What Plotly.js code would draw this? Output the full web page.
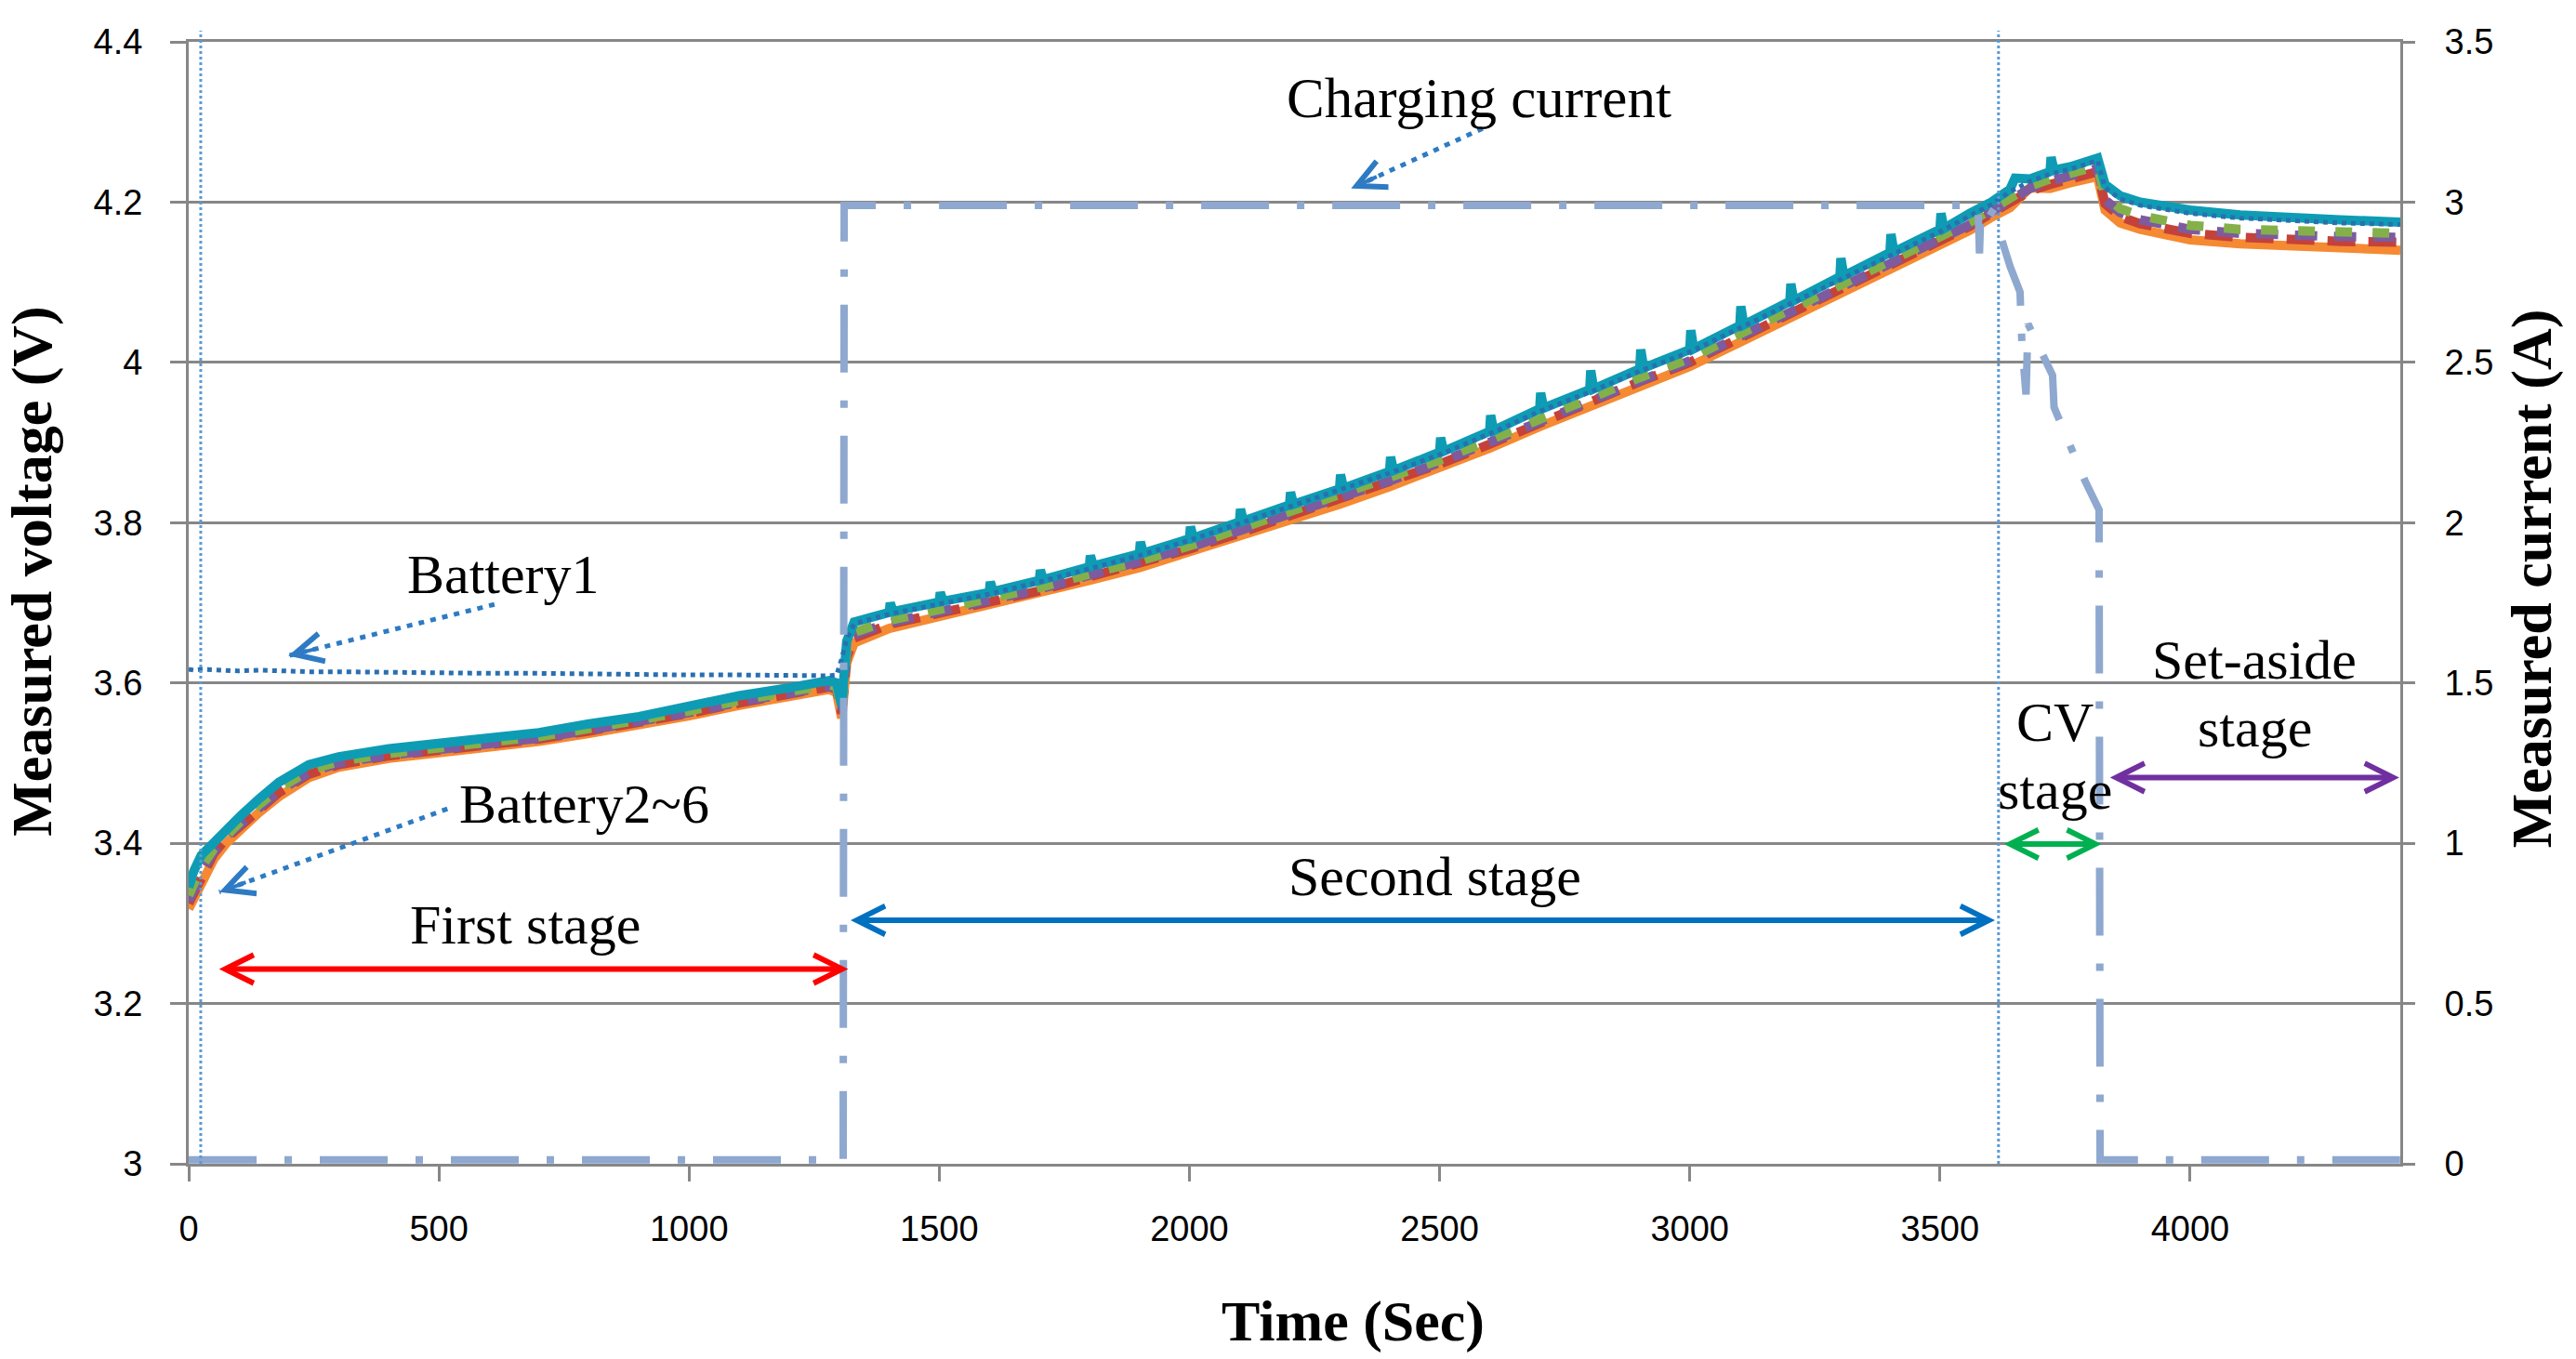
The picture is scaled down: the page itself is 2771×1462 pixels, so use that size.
<!DOCTYPE html>
<html>
<head>
<meta charset="utf-8">
<script src="https://cdn.plot.ly/plotly-3.0.1.min.js"></script>
<style>html,body{margin:0;padding:0;background:#fff;}#chart{width:2771px;height:1462px;}</style>
</head>
<body>
<div id="chart"></div>
<script>
// ---- data ----
const timeSec = [0,10,25,50,75,100,140,180,240,300,400,500,600,700,800,900,1000,1100,1200,1280,1295,1305,1315,1330,1400,1500,1600,1700,1800,1900,2000,2100,2200,2300,2400,2500,2600,2700,2800,2900,3000,3100,3200,3300,3400,3500,3560,3600,3640,3680,3720,3760,3800,3815,3830,3860,3900,3950,4000,4100,4200,4300,4420];

const battery1 = [3.617,3.616,3.617,3.616,3.616,3.615,3.616,3.615,3.614,3.614,3.613,3.613,3.612,3.612,3.611,3.611,3.610,3.610,3.609,3.609,3.610,3.630,3.655,3.674,3.686,3.699,3.711,3.726,3.743,3.759,3.778,3.799,3.820,3.840,3.862,3.885,3.911,3.939,3.963,3.989,4.013,4.043,4.073,4.104,4.134,4.163,4.183,4.196,4.213,4.226,4.235,4.241,4.249,4.252,4.218,4.204,4.196,4.191,4.186,4.180,4.177,4.174,4.172];
const battery2 = [3.325,3.338,3.360,3.387,3.406,3.420,3.443,3.463,3.486,3.498,3.509,3.516,3.523,3.530,3.540,3.550,3.562,3.575,3.586,3.595,3.592,3.562,3.632,3.656,3.673,3.688,3.701,3.715,3.732,3.748,3.767,3.787,3.808,3.828,3.850,3.873,3.898,3.925,3.950,3.976,4.000,4.030,4.060,4.091,4.121,4.151,4.170,4.185,4.200,4.214,4.222,4.229,4.236,4.238,4.198,4.182,4.173,4.166,4.161,4.156,4.153,4.151,4.150];
const battery3 = [3.335,3.348,3.370,3.393,3.411,3.425,3.448,3.468,3.491,3.502,3.512,3.519,3.526,3.533,3.543,3.553,3.565,3.578,3.589,3.598,3.595,3.566,3.640,3.663,3.678,3.692,3.705,3.719,3.736,3.752,3.771,3.792,3.813,3.833,3.855,3.878,3.903,3.930,3.955,3.981,4.005,4.035,4.065,4.096,4.126,4.156,4.175,4.190,4.206,4.220,4.229,4.235,4.243,4.245,4.208,4.192,4.183,4.176,4.171,4.166,4.164,4.162,4.161];
const battery4 = [3.328,3.342,3.364,3.389,3.408,3.422,3.445,3.465,3.488,3.500,3.510,3.517,3.524,3.531,3.541,3.551,3.563,3.576,3.587,3.596,3.593,3.563,3.636,3.660,3.675,3.690,3.703,3.717,3.734,3.750,3.769,3.790,3.810,3.831,3.852,3.875,3.900,3.927,3.952,3.978,4.002,4.032,4.062,4.093,4.123,4.153,4.172,4.187,4.203,4.217,4.226,4.232,4.240,4.242,4.203,4.187,4.178,4.171,4.166,4.161,4.158,4.157,4.156];
const battery6 = [3.318,3.330,3.352,3.380,3.400,3.415,3.438,3.458,3.482,3.495,3.506,3.513,3.520,3.527,3.537,3.547,3.559,3.572,3.583,3.592,3.588,3.556,3.625,3.650,3.668,3.683,3.697,3.711,3.728,3.744,3.763,3.783,3.803,3.823,3.845,3.868,3.893,3.920,3.945,3.971,3.995,4.025,4.055,4.086,4.116,4.146,4.165,4.180,4.193,4.218,4.217,4.224,4.230,4.232,4.190,4.174,4.166,4.159,4.153,4.148,4.145,4.143,4.140];

// Battery5 (top trace) has its own denser time axis to keep its visible spikes
const timeSec5 = [0,10,25,50,75,100,140,180,240,300,400,500,600,700,800,900,1000,1100,1200,1280,1295,1305,1315,1330,
  1400,1402,1408,1500,1502,1508,1600,1602,1608,1700,1702,1708,1800,1802,1808,1900,1902,1908,
  2000,2002,2008,2100,2102,2108,2200,2202,2208,2300,2302,2308,2400,2402,2408,2500,2502,2508,
  2600,2602,2608,2700,2702,2708,2800,2802,2808,2900,2902,2908,3000,3002,3008,3100,3102,3108,
  3200,3202,3208,3300,3302,3308,3400,3402,3408,3500,3502,3508,3560,3600,3640,3650,3680,3720,3722,3728,3760,3800,3815,3830,3860,3900,3950,4000,4100,4200,4300,4420];
const battery5 = [3.345,3.365,3.385,3.402,3.418,3.432,3.455,3.476,3.498,3.508,3.518,3.525,3.531,3.538,3.549,3.558,3.571,3.584,3.594,3.603,3.600,3.572,3.652,3.676,
  3.688,3.700,3.689,3.701,3.713,3.702,3.713,3.726,3.714,3.728,3.741,3.729,3.745,3.759,3.746,3.761,3.776,3.762,
  3.780,3.795,3.781,3.801,3.817,3.802,3.822,3.838,3.823,3.842,3.860,3.843,3.864,3.882,3.865,3.888,3.906,3.889,
  3.914,3.934,3.915,3.942,3.962,3.943,3.966,3.990,3.967,3.992,4.016,3.993,4.016,4.040,4.017,4.046,4.070,4.047,
  4.076,4.098,4.077,4.107,4.130,4.108,4.137,4.160,4.138,4.166,4.186,4.167,4.186,4.199,4.216,4.230,4.229,4.238,4.256,4.240,4.244,4.252,4.255,4.222,4.208,4.200,4.195,4.190,4.184,4.180,4.178,4.175];

const currentTime = [0,1308,1310,3576,3579,3582,3612,3622,3640,3660,3664,3672,3676,3700,3725,3728,3760,3790,3818,3820,4420];
const currentAmp  = [0.012,0.012,2.99,2.99,2.84,2.99,2.96,2.89,2.80,2.72,2.55,2.40,2.62,2.54,2.46,2.36,2.24,2.13,2.04,0.012,0.012];

const voltageTicks = [3,3.2,3.4,3.6,3.8,4,4.2,4.4];
const currentTicks = [0,0.5,1,1.5,2,2.5,3,3.5];
const timeTicks = [0,500,1000,1500,2000,2500,3000,3500,4000];

// ---- styling ----
const GRID = '#878787';
const tickFont = {family: 'Liberation Sans, Arial, sans-serif', size: 38, color: '#000'};
const serif = 'Liberation Serif, Times New Roman, serif';

function vLine(x, y, color, width, dash, name) {
  return {x: x, y: y, type: 'scatter', mode: 'lines', name: name,
          line: {color: color, width: width, dash: dash}, hoverinfo: 'skip'};
}

const traces = [
  vLine(timeSec, battery6, '#F58A32', 10, 'solid', 'Battery6'),
  vLine(timeSec, battery2, '#C4423A', 10, '30px,14px', 'Battery2'),
  vLine(timeSec, battery4, '#7E5A9E', 10, '24px,18px', 'Battery4'),
  vLine(timeSec, battery3, '#84B04A', 10, '18px,22px', 'Battery3'),
  vLine(timeSec5, battery5, '#0E9CB4', 10, 'solid', 'Battery5'),
  vLine(timeSec, battery1, '#2A6FB0', 5, '5px,5px', 'Battery1'),
  {x: currentTime, y: currentAmp, yaxis: 'y2', type: 'scatter', mode: 'lines', name: 'Charging current',
   line: {color: '#8EA8CF', width: 8, dash: '73px,30px,8px,30px'}, hoverinfo: 'skip'}
];

// callout arrows: dotted shaft (shape) + open head (annotation)
const callouts = [
  {tail: [611, 3.698], tip: [199, 3.634], dir: [0.971, -0.240]},
  {tail: [517, 3.443], tip: [61, 3.339], dir: [0.939, -0.345]},
  {tail: [2586, 4.292], tip: [2323, 4.217], dir: [0.909, -0.416]}
];
const ARROWBLUE = '#2E7BC4';

const shapes = [
  {type: 'line', xref: 'x', yref: 'paper', x0: 24, x1: 24, y0: 0, y1: 1.01,
   line: {color: '#5B9BD5', width: 3, dash: '3px,3px'}},
  {type: 'line', xref: 'x', yref: 'paper', x0: 3617, x1: 3617, y0: 0, y1: 1.01,
   line: {color: '#5B9BD5', width: 3, dash: '3px,3px'}}
];
callouts.forEach(c => shapes.push({type: 'line', xref: 'x', yref: 'y',
  x0: c.tail[0], y0: c.tail[1], x1: c.tip[0], y1: c.tip[1],
  line: {color: ARROWBLUE, width: 5, dash: '6px,7px'}}));

function txt(text, x, y, size) {
  return {text: text, x: x, y: y, xref: 'x', yref: 'y', showarrow: false,
          xanchor: 'center', yanchor: 'middle',
          font: {family: serif, size: size || 60, color: '#000'}};
}
function stageArrow(x0, x1, y, color) {
  return {text: '', x: x1, y: y, ax: x0, ay: y, xref: 'x', yref: 'y', axref: 'x', ayref: 'y',
          showarrow: true, arrowside: 'end+start', arrowhead: 5, startarrowhead: 5,
          arrowsize: 1, startarrowsize: 1, arrowwidth: 6, arrowcolor: color};
}

const annotations = [
  txt('Charging current', 2579, 4.330, 61),
  txt('Battery1', 628, 3.735),
  txt('Battery2~6', 790, 3.449),
  txt('First stage', 673, 3.298),
  txt('Second stage', 2490, 3.358),
  txt('CV', 3729, 3.551),
  txt('stage', 3729, 3.466),
  txt('Set-aside', 4129, 3.629),
  txt('stage', 4129, 3.544),
  stageArrow(58, 1318, 3.243, '#FF0000'),
  stageArrow(1320, 3610, 3.304, '#0070C0'),
  stageArrow(3625, 3823, 3.399, '#00B050'),
  stageArrow(3837, 4418, 3.482, '#7030A0')
];
callouts.forEach(c => annotations.push({text: '', x: c.tip[0], y: c.tip[1], xref: 'x', yref: 'y',
  ax: c.dir[0] * 32, ay: c.dir[1] * 32, showarrow: true, arrowhead: 5, arrowsize: 1.5,
  arrowwidth: 4, arrowcolor: ARROWBLUE}));

const titleFont = {family: serif, size: 62, weight: 'bold', color: '#000'};
const layout = {
  width: 2771, height: 1462,
  margin: {l: 203, r: 189, t: 45, b: 210, pad: 0},
  paper_bgcolor: '#fff', plot_bgcolor: '#fff',
  showlegend: false,
  xaxis: {
    range: [0, 4420], tickvals: timeTicks, ticks: 'outside', ticklen: 16, tickwidth: 3, tickcolor: GRID,
    showline: true, linecolor: GRID, linewidth: 3, mirror: true, showgrid: false, zeroline: false,
    tickfont: tickFont, ticklabelstandoff: 18, automargin: false,
    title: {text: 'Time (Sec)', standoff: 58, font: titleFont}
  },
  yaxis: {
    range: [3, 4.4], tickvals: voltageTicks, ticks: 'outside', ticklen: 17, tickwidth: 3, tickcolor: GRID,
    showline: true, linecolor: GRID, linewidth: 3, showgrid: true, gridcolor: GRID, gridwidth: 3,
    zeroline: false, tickfont: tickFont, ticklabelstandoff: 22, automargin: false,
    title: {text: 'Measured voltage (V)', standoff: 28, font: titleFont}
  },
  yaxis2: {
    range: [0, 3.5], tickvals: currentTicks, overlaying: 'y', side: 'right',
    ticks: 'outside', ticklen: 13, tickwidth: 3, tickcolor: GRID,
    showline: true, linecolor: GRID, linewidth: 3, showgrid: false, zeroline: false,
    tickfont: tickFont, ticklabelstandoff: 24, automargin: false,
    title: {text: 'Measured current (A)', standoff: 20, font: titleFont}
  },
  shapes: shapes,
  annotations: annotations
};

// the reference's axis titles sit slightly off-centre; nudge the drawn title groups
const titleNudge = [['.g-xtitle', 63, 0], ['.g-ytitle', 0, -34], ['.g-y2title', 0, -26]];

Plotly.newPlot('chart', traces, layout, {staticPlot: true, displayModeBar: false}).then(() => {
  titleNudge.forEach(([sel, dx, dy]) => {
    const g = document.querySelector(sel);
    if (g) {
      const prev = g.getAttribute('transform') || '';
      g.setAttribute('transform', 'translate(' + dx + ',' + dy + ') ' + prev);
    }
  });
});
</script>
</body>
</html>
